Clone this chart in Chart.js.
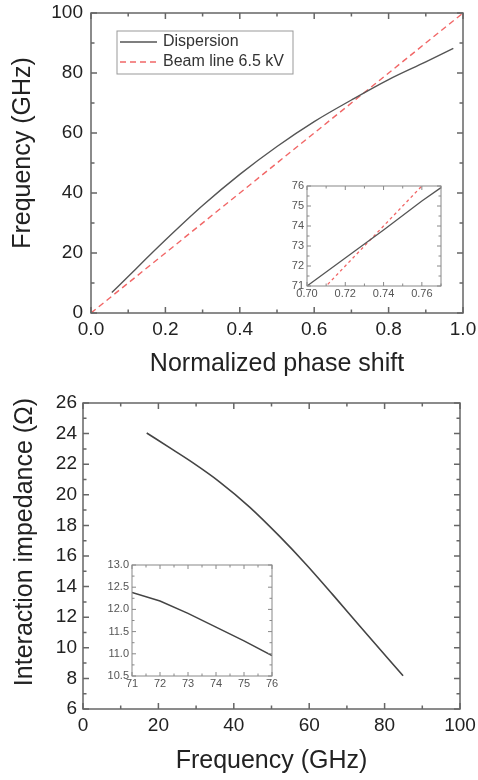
<!DOCTYPE html>
<html>
<head>
<meta charset="utf-8">
<script src="https://cdn.jsdelivr.net/npm/chart.js@4.4.1/dist/chart.umd.min.js"></script>
<style>
  html, body { margin: 0; padding: 0; background: #fff; }
  #page { position: relative; width: 478px; height: 780px; }
  canvas { position: absolute; }
</style>
</head>
<body>
<div id="page">
  <canvas id="dispChart" width="478" height="390" style="left:0;top:0"></canvas>
  <canvas id="dispInset" width="180" height="130" style="left:270px;top:170px"></canvas>
  <canvas id="impChart" width="478" height="390" style="left:0;top:390px"></canvas>
  <canvas id="impInset" width="185" height="145" style="left:95px;top:550px"></canvas>
</div>
<script>
// dispersion curve (top)
const phaseShift = [0.056, 0.1, 0.2, 0.3, 0.4, 0.5, 0.6, 0.7, 0.8, 0.9, 0.974];
const dispFreq = [6.8, 12.2, 24.3, 35.8, 46.2, 55.5, 63.8, 71.0, 77.8, 83.7, 88.2];
const beamPhase = [0, 1];
const beamFreq = [0, 100];
const phaseTicks = [0, 0.2, 0.4, 0.6, 0.8, 1.0];
const freqTicks = [0, 20, 40, 60, 80, 100];

// zoom of the crossing point
const insetPhase = [0.70, 0.72, 0.74, 0.76, 0.77];
const insetFreq = [71.0, 72.4, 73.8, 75.25, 75.92];
const insetBeamPhase = [0.70, 0.77];
const insetBeamFreq = [70, 77];
const insetPhaseTicks = [0.70, 0.72, 0.74, 0.76];
const insetFreqTicks = [71, 72, 73, 74, 75, 76];

// interaction impedance (bottom)
const impFreq = [16.9, 23.8, 29.1, 36.2, 44.2, 52.1, 59.2, 66.3, 73.4, 84.9];
const impedance = [24.04, 22.95, 22.1, 20.85, 19.2, 17.3, 15.45, 13.46, 11.43, 8.17];
const impFreqTicks = [0, 20, 40, 60, 80, 100];
const impTicks = [6, 8, 10, 12, 14, 16, 18, 20, 22, 24, 26];

const impInsetFreq = [71, 72, 73, 74, 75, 76];
const impInsetValue = [12.38, 12.19, 11.91, 11.60, 11.29, 10.96];
const impInsetFreqTicks = [71, 72, 73, 74, 75, 76];
const impInsetTicks = [10.5, 11.0, 11.5, 12.0, 12.5, 13.0];

const FONT = '"Liberation Sans", Arial, sans-serif';
Chart.defaults.font.family = FONT;
Chart.defaults.animation = false;

function toPoints(xs, ys) {
    return xs.map((x, i) => ({ x: x, y: ys[i] }));
}

// frame around the plot + inward ticks on all four sides
const frameTicks = {
    id: 'frameTicks',
    beforeDraw(chart, args, opts) {
        if (!opts.fill) return;
        const a = chart.chartArea;
        chart.ctx.save();
        chart.ctx.fillStyle = '#fff';
        chart.ctx.fillRect(a.left, a.top, a.right - a.left, a.bottom - a.top);
        chart.ctx.restore();
    },
    afterDraw(chart, args, opts) {
        const { ctx, chartArea: a } = chart;
        const x = chart.scales.x, y = chart.scales.y;
        ctx.save();
        ctx.strokeStyle = opts.color;
        ctx.lineWidth = opts.width;
        ctx.strokeRect(a.left, a.top, a.right - a.left, a.bottom - a.top);

        function minors(scale) {
            const t = scale.ticks.map(k => k.value);
            const step = t[1] - t[0];
            const out = [];
            for (let v = t[0] + step / 2; v <= scale.max + 1e-9; v += step) out.push(v);
            for (let v = t[0] - step / 2; v >= scale.min - 1e-9; v -= step) out.push(v);
            return out;
        }
        function markX(values, len) {
            values.forEach(v => {
                const p = x.getPixelForValue(v);
                ctx.beginPath();
                ctx.moveTo(p, a.bottom); ctx.lineTo(p, a.bottom - len);
                ctx.moveTo(p, a.top); ctx.lineTo(p, a.top + len);
                ctx.stroke();
            });
        }
        function markY(values, len) {
            values.forEach(v => {
                const p = y.getPixelForValue(v);
                ctx.beginPath();
                ctx.moveTo(a.left, p); ctx.lineTo(a.left + len, p);
                ctx.moveTo(a.right, p); ctx.lineTo(a.right - len, p);
                ctx.stroke();
            });
        }
        markX(x.ticks.map(k => k.value), opts.major);
        markY(y.ticks.map(k => k.value), opts.major);
        markX(minors(x), opts.minor);
        markY(minors(y), opts.minor);
        ctx.restore();
    }
};

// boxed legend inside the plot area
const legendBox = {
    id: 'legendBox',
    afterDraw(chart, args, opts) {
        if (!opts.show) return;
        const { ctx, chartArea: a } = chart;
        const left = a.left + opts.dx, top = a.top + opts.dy;
        ctx.save();
        ctx.strokeStyle = '#999';
        ctx.lineWidth = 1;
        ctx.strokeRect(left, top, opts.w, opts.h);
        ctx.font = '16px ' + FONT;
        ctx.textBaseline = 'middle';
        ctx.fillStyle = '#333';
        chart.data.datasets.forEach((ds, i) => {
            const yy = top + 11 + i * 20;
            ctx.beginPath();
            ctx.strokeStyle = ds.borderColor;
            ctx.lineWidth = ds.borderWidth;
            ctx.setLineDash(ds.borderDash || []);
            ctx.moveTo(left + 3, yy);
            ctx.lineTo(left + 40, yy);
            ctx.stroke();
            ctx.setLineDash([]);
            ctx.fillText(ds.label, left + 46, yy);
        });
        ctx.restore();
    }
};

// rotated y title, placed a bit above the axis centre like the original
const sideTitle = {
    id: 'sideTitle',
    afterDraw(chart, args, opts) {
        if (!opts.text) return;
        const ctx = chart.ctx;
        ctx.save();
        ctx.translate(opts.x, opts.y);
        ctx.rotate(-Math.PI / 2);
        ctx.font = '25px ' + FONT;
        ctx.fillStyle = '#222';
        ctx.textAlign = 'center';
        ctx.textBaseline = 'middle';
        ctx.fillText(opts.text, 0, 0);
        ctx.restore();
    }
};

function axis(min, max, values, size, fmt, font, pad, color, title) {
    const cfg = {
        type: 'linear',
        min: min,
        max: max,
        grid: { display: false, drawTicks: false },
        border: { display: false },
        afterBuildTicks: s => { s.ticks = values.map(v => ({ value: v })); },
        afterFit: s => {
            if (s.isHorizontal()) s.height = size; else s.width = size;
            s.paddingTop = s.paddingBottom = s.paddingLeft = s.paddingRight = 0;
        },
        ticks: {
            autoSkip: false,
            maxRotation: 0,
            padding: pad,
            color: color,
            font: { size: font },
            callback: v => fmt(v)
        }
    };
    if (title) cfg.title = title;
    return cfg;
}

function mainOptions(xAxis, yAxis, pad, legend, yTitle) {
    return {
        responsive: false,
        layout: { padding: pad },
        events: [],
        scales: { x: xAxis, y: yAxis },
        plugins: {
            legend: { display: false },
            tooltip: { enabled: false },
            frameTicks: { color: '#666', width: 1.5, major: 6, minor: 3.5, fill: false },
            legendBox: legend,
            sideTitle: yTitle
        }
    };
}

function insetOptions(xAxis, yAxis, pad) {
    return {
        responsive: false,
        layout: { padding: pad },
        events: [],
        scales: { x: xAxis, y: yAxis },
        plugins: {
            legend: { display: false },
            tooltip: { enabled: false },
            frameTicks: { color: '#888', width: 1, major: 4, minor: 2.5, fill: true },
            legendBox: { show: false },
            sideTitle: {}
        }
    };
}

const titleFont = { size: 25 };

// top chart
new Chart(document.getElementById('dispChart'), {
    type: 'line',
    data: {
        datasets: [{
            label: 'Dispersion',
            data: toPoints(phaseShift, dispFreq),
            borderColor: '#555',
            borderWidth: 1.4,
            pointRadius: 0,
            cubicInterpolationMode: 'monotone'
        }, {
            label: 'Beam line 6.5 kV',
            data: toPoints(beamPhase, beamFreq),
            borderColor: 'rgba(240, 85, 85, 0.9)',
            borderWidth: 1.4,
            borderDash: [6, 4],
            pointRadius: 0
        }]
    },
    options: mainOptions(
        axis(0, 1, phaseTicks, 77, v => v.toFixed(1), 19, 5, '#222',
            { display: true, text: 'Normalized phase shift', color: '#222', font: titleFont, padding: { top: 0, bottom: 11 } }),
        axis(0, 100, freqTicks, 91, v => String(v), 19, 8, '#222'),
        { top: 13, right: 15, left: 0, bottom: 0 },
        { show: true, dx: 26, dy: 18, w: 176, h: 43 },
        { text: 'Frequency (GHz)', x: 23, y: 153 }
    ),
    plugins: [frameTicks, legendBox, sideTitle]
});

new Chart(document.getElementById('dispInset'), {
    type: 'line',
    data: {
        datasets: [{
            label: 'Dispersion',
            data: toPoints(insetPhase, insetFreq),
            borderColor: '#555',
            borderWidth: 1.3,
            pointRadius: 0
        }, {
            label: 'Beam line 6.5 kV',
            data: toPoints(insetBeamPhase, insetBeamFreq),
            borderColor: 'rgba(240, 85, 85, 0.9)',
            borderWidth: 1.3,
            borderDash: [3, 3],
            pointRadius: 0
        }]
    },
    options: insetOptions(
        axis(0.70, 0.77, insetPhaseTicks, 14, v => v.toFixed(2), 11, 1, '#555'),
        axis(71, 76, insetFreqTicks, 37, v => String(v), 11, 3, '#555'),
        { top: 16, right: 9, left: 0, bottom: 0 }
    ),
    plugins: [frameTicks, legendBox, sideTitle]
});

// bottom chart
new Chart(document.getElementById('impChart'), {
    type: 'line',
    data: {
        datasets: [{
            label: 'Interaction impedance',
            data: toPoints(impFreq, impedance),
            borderColor: '#444',
            borderWidth: 1.6,
            pointRadius: 0,
            cubicInterpolationMode: 'monotone'
        }]
    },
    options: mainOptions(
        axis(0, 100, impFreqTicks, 71, v => String(v), 19, 5, '#222',
            { display: true, text: 'Frequency (GHz)', color: '#222', font: titleFont, padding: { top: 0, bottom: 4 } }),
        axis(6, 26, impTicks, 83, v => String(v), 19, 6, '#222'),
        { top: 13, right: 18, left: 0, bottom: 0 },
        { show: false },
        { text: 'Interaction impedance (Ω)', x: 25, y: 152 }
    ),
    plugins: [frameTicks, legendBox, sideTitle]
});

new Chart(document.getElementById('impInset'), {
    type: 'line',
    data: {
        datasets: [{
            label: 'Interaction impedance',
            data: toPoints(impInsetFreq, impInsetValue),
            borderColor: '#444',
            borderWidth: 1.5,
            pointRadius: 0
        }]
    },
    options: insetOptions(
        axis(71, 76, impInsetFreqTicks, 19, v => String(v), 11, 1, '#555'),
        axis(10.5, 13, impInsetTicks, 37, v => v.toFixed(1), 11, 3, '#555'),
        { top: 15, right: 8, left: 0, bottom: 0 }
    ),
    plugins: [frameTicks, legendBox, sideTitle]
});
</script>
</body>
</html>
